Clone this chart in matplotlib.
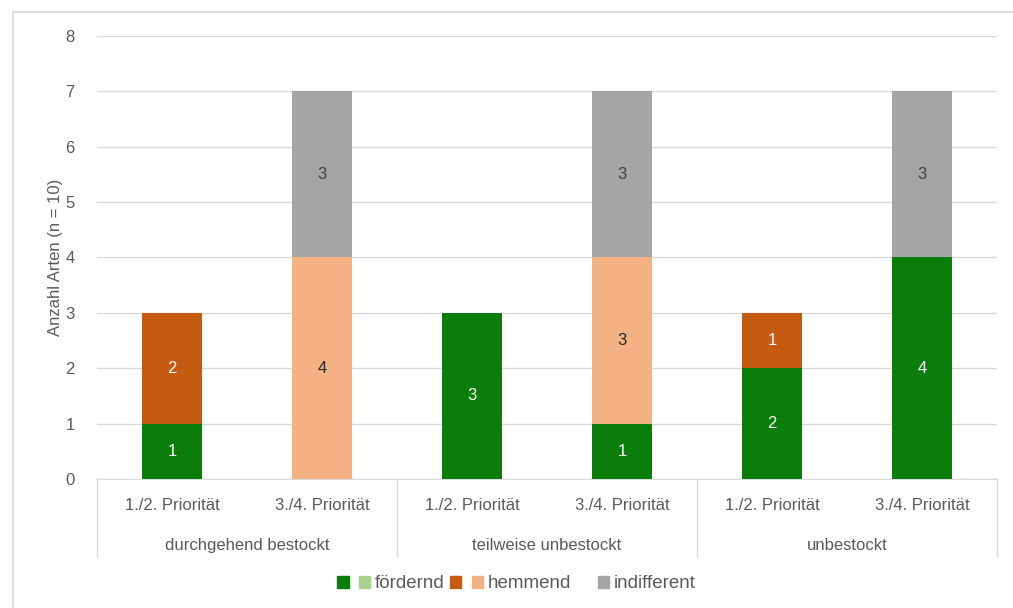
import numpy as np
import matplotlib.pyplot as plt
from matplotlib.patches import Patch, Rectangle

plt.rcParams['font.family'] = ['Liberation Sans', 'DejaVu Sans']

prioritaet = ['1./2. Priorität', '3./4. Priorität'] * 3
bestand = ['durchgehend bestockt', 'teilweise unbestockt', 'unbestockt']

foerdernd = [1, 0, 3, 1, 2, 4]
foerdernd_hell = [0, 0, 0, 0, 0, 0]
hemmend = [2, 0, 0, 0, 1, 0]
hemmend_hell = [0, 4, 0, 3, 0, 0]
indifferent = [0, 3, 0, 3, 0, 3]

serien = [
    (foerdernd, '#0b7d0b', 'white'),
    (foerdernd_hell, '#a9d18e', '#404040'),
    (hemmend, '#c55a11', 'white'),
    (hemmend_hell, '#f4b183', '#262626'),
    (indifferent, '#a5a5a5', '#404040'),
]

fig = plt.figure(figsize=(10.13, 6.08), dpi=100)
ax = fig.add_axes([0.0958, 0.2122, 0.8884, 0.7286])

# Rahmen um das Diagramm (nur oben/links sichtbar)
fig.patches.append(Rectangle((13 / 1013, -0.1), 1.2, 1 - 12 / 608 + 0.1,
                             transform=fig.transFigure, fill=False,
                             ec='#d9d9d9', lw=1.2))

x = np.arange(len(prioritaet))
unten = np.zeros(len(x))
for werte, farbe, tfarbe in serien:
    werte = np.array(werte, dtype=float)
    ax.bar(x, werte, 0.4, bottom=unten, color=farbe, zorder=3)
    for xi, w, b in zip(x, werte, unten):
        if w > 0:
            ax.text(xi, b + w / 2, f'{w:g}', ha='center', va='center',
                    color=tfarbe, fontsize=12, zorder=4)
    unten += werte

ax.set_xlim(-0.5, 5.5)
ax.set_ylim(0, 8)
ax.set_yticks(range(9))
ax.yaxis.grid(True, color='#d9d9d9', lw=1)
ax.set_axisbelow(True)
for s in ['top', 'right', 'left']:
    ax.spines[s].set_visible(False)
ax.spines['bottom'].set_color('#d9d9d9')
ax.tick_params(axis='y', length=0, labelsize=12, labelcolor='#595959', pad=16)
ax.tick_params(axis='x', length=0, labelsize=12, labelcolor='#595959', pad=14)
ax.set_xticks(x)
ax.set_xticklabels(prioritaet)
ax.set_ylabel('Anzahl Arten (n = 10)', fontsize=12, color='#595959', labelpad=2)

# Gruppenbeschriftung mit Trennlinien
trans = ax.get_xaxis_transform()
for g in [-0.5, 1.5, 3.5, 5.5]:
    ax.plot([g, g], [0, -0.175], transform=trans, color='#d9d9d9', lw=1,
            clip_on=False)
for i, name in enumerate(bestand):
    ax.text(2 * i + 0.5, -0.151, name, transform=trans, ha='center',
            va='center', fontsize=12, color='#595959')

handles = [Patch(color=c) for _, c, _ in serien]
labels = ['', 'fördernd', '', 'hemmend', 'indifferent']
handles.insert(4, Patch(alpha=0))
labels.insert(4, '')
fig.legend(handles, labels, loc='center', bbox_to_anchor=(0.51, 0.04),
           ncol=6, frameon=False, fontsize=13.5, handlelength=0.6,
           handleheight=0.6, handletextpad=0.25, columnspacing=0.3,
           labelcolor='#595959')

fig.savefig('out.png', dpi=100)
